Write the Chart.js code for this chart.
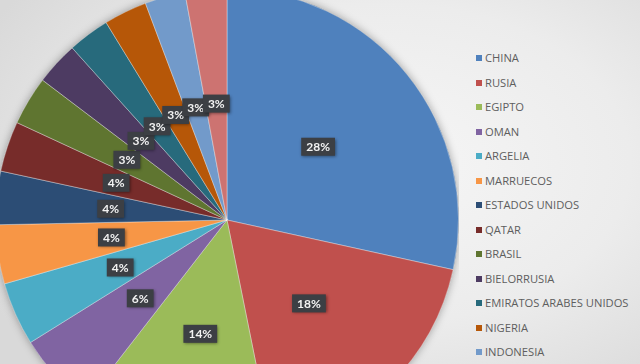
<!DOCTYPE html>
<html>
<head>
<meta charset="utf-8">
<script src="https://cdn.jsdelivr.net/npm/chart.js@4"></script>
<style>
  html, body { margin: 0; padding: 0; width: 640px; height: 364px; overflow: hidden; }
  body { background: radial-gradient(ellipse 70% 80% at 60% 45%, #f6f6f6 0%, #ececec 55%, #d9d9d9 100%); position: relative; font-family: "Open Sans", sans-serif; }
  #wrap { position: absolute; left: -5px; top: -12px; width: 464px; height: 464px; }
  #legend { position: absolute; left: 476px; top: 51px; margin: 0; padding: 0; list-style: none; }
  #legend li { height: 24.5px; line-height: 14px; font-size: 11.2px; color: #5e5e5e; white-space: nowrap; }
  #legend span { display: inline-block; width: 6px; height: 6px; margin-right: 3px; vertical-align: 1px; }
</style>
</head>
<body>
<div id="wrap"><canvas id="c" width="464" height="464"></canvas></div>
<ul id="legend"></ul>
<script>
const categories = ["CHINA", "RUSIA", "EGIPTO", "OMAN", "ARGELIA", "MARRUECOS", "ESTADOS UNIDOS", "QATAR", "BRASIL", "BIELORRUSIA", "EMIRATOS ARABES UNIDOS", "NIGERIA", "INDONESIA", "OTROS"];
const values = [28.3, 18.3, 13.6, 5.6, 4.4, 4.1, 3.7, 3.5, 3.4, 3.0, 2.9, 3.0, 2.8, 2.9];
const pctLabels = ["28%", "18%", "14%", "6%", "4%", "4%", "4%", "4%", "3%", "3%", "3%", "3%", "3%", "3%"];
const colors = ["#4F81BD", "#C0504D", "#9BBB59", "#8064A2", "#4BACC6", "#F79646", "#2C4D75", "#772C2A", "#5F7530", "#4D3B62", "#276A7C", "#B65708", "#729ACA", "#CD7371"];

const labelPlugin = {
  id: 'boxLabels',
  beforeDatasetsDraw(chart) {
    const meta = chart.getDatasetMeta(0);
    const a = meta.data[0];
    if (!a) return;
    const ctx = chart.ctx;
    ctx.save();
    ctx.shadowColor = 'rgba(0,0,0,0.35)';
    ctx.shadowBlur = 8;
    ctx.fillStyle = '#888';
    ctx.beginPath();
    ctx.arc(a.x, a.y, a.outerRadius, 0, Math.PI * 2);
    ctx.fill();
    ctx.restore();
  },
  afterDatasetsDraw(chart) {
    const ctx = chart.ctx;
    const meta = chart.getDatasetMeta(0);
    ctx.save();
    ctx.font = 'bold 12px Lato, sans-serif';
    ctx.textAlign = 'center';
    ctx.textBaseline = 'middle';
    meta.data.forEach((arc, i) => {
      const mid = (arc.startAngle + arc.endAngle) / 2;
      const r = arc.outerRadius * 0.505;
      const x = arc.x + Math.cos(mid) * r;
      const y = arc.y + Math.sin(mid) * r;
      const t = pctLabels[i];
      const w = ctx.measureText(t).width + 10;
      const h = 18;
      ctx.shadowColor = 'rgba(0,0,0,0.45)';
      ctx.shadowBlur = 3;
      ctx.shadowOffsetX = 1;
      ctx.shadowOffsetY = 1;
      ctx.fillStyle = '#3c3f44';
      ctx.fillRect(x - w / 2, y - h / 2, w, h);
      ctx.shadowColor = 'transparent';
      ctx.fillStyle = '#f2f2f2';
      ctx.fillText(t, x, y + 0.5);
    });
    ctx.restore();
  }
};

const chart = new Chart(document.getElementById('c'), {
  type: 'pie',
  data: {
    labels: categories,
    datasets: [{
      data: values,
      backgroundColor: colors,
      borderColor: 'rgba(255,255,255,0.35)',
      borderWidth: 1,
      hoverOffset: 0
    }]
  },
  options: {
    responsive: false,
    animation: false,
    layout: { padding: 0 },
    plugins: { legend: { display: false }, tooltip: { enabled: false } }
  },
  plugins: [labelPlugin]
});

const ul = document.getElementById('legend');
categories.forEach((c, i) => {
  const li = document.createElement('li');
  const s = document.createElement('span');
  s.style.background = colors[i];
  li.appendChild(s);
  li.appendChild(document.createTextNode(c));
  ul.appendChild(li);
});
</script>
</body>
</html>
